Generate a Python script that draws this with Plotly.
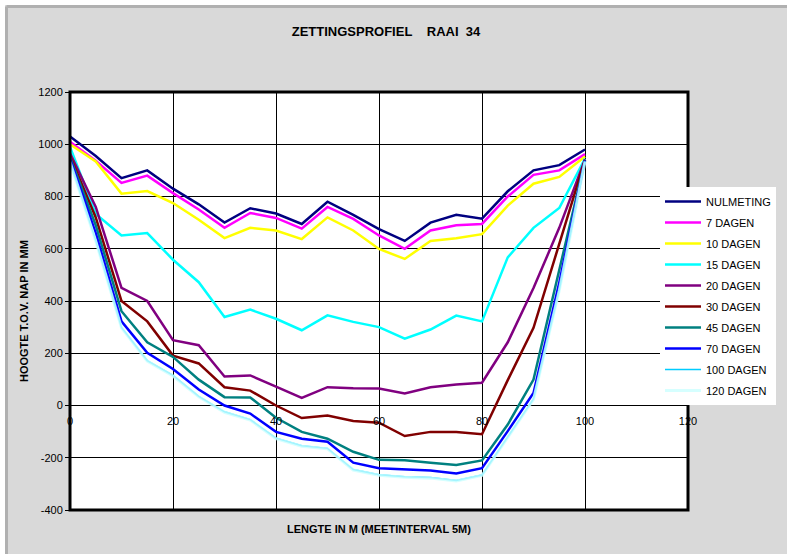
import plotly.graph_objects as go

# Meetpunten langs de raai (interval 5 m)
afstand = [0, 5, 10, 15, 20, 25, 30, 35, 40, 45, 50, 55, 60, 65, 70, 75, 80, 85, 90, 95, 100]

# Hoogte t.o.v. NAP in mm per meetmoment
nulmeting = [1030, 955, 870, 900, 830, 770, 700, 755, 735, 695, 780, 730, 675, 630, 700, 730, 715, 820, 900, 920, 980]
dagen_7 = [1010, 937, 852, 880, 813, 750, 680, 737, 718, 677, 760, 714, 651, 600, 670, 690, 695, 800, 883, 900, 962]
dagen_10 = [1000, 934, 811, 821, 775, 711, 641, 680, 670, 637, 720, 670, 599, 561, 630, 640, 656, 765, 849, 875, 953]
dagen_15 = [990, 733, 651, 660, 558, 472, 339, 367, 332, 288, 345, 320, 300, 256, 291, 344, 322, 567, 680, 756, 945]
dagen_20 = [965, 760, 450, 400, 250, 231, 111, 115, 72, 29, 70, 66, 65, 46, 70, 80, 87, 242, 450, 680, 942]
dagen_30 = [955, 720, 400, 322, 191, 161, 70, 57, 0, -48, -38, -59, -66, -117, -101, -101, -110, 97, 297, 620, 940]
dagen_45 = [950, 690, 361, 242, 186, 99, 32, 31, -47, -101, -127, -177, -208, -210, -219, -228, -210, -73, 99, 520, 938]
dagen_70 = [945, 660, 322, 202, 140, 61, 0, -31, -101, -127, -139, -219, -240, -245, -249, -260, -240, -98, 48, 470, 938]
dagen_100 = [934, 632, 299, 172, 115, 35, -24, -54, -125, -154, -164, -245, -265, -273, -276, -287, -266, -122, 25, 442, 935]
dagen_120 = [932, 630, 297, 170, 113, 33, -26, -56, -127, -156, -166, -247, -267, -275, -278, -289, -268, -124, 23, 440, 934]

reeksen = [
    ("NULMETING", nulmeting, "#000080", 2.5, 1.0),
    ("7 DAGEN", dagen_7, "#ff00ff", 2.5, 1.0),
    ("10 DAGEN", dagen_10, "#ffff00", 2.5, 1.0),
    ("15 DAGEN", dagen_15, "#00ffff", 2.5, 1.0),
    ("20 DAGEN", dagen_20, "#800080", 2.5, 1.0),
    ("30 DAGEN", dagen_30, "#800000", 2.5, 1.0),
    ("45 DAGEN", dagen_45, "#008080", 2.5, 1.0),
    ("70 DAGEN", dagen_70, "#0000ff", 2.5, 1.0),
    ("100 DAGEN", dagen_100, "#00ccff", 1.5, 1.0),
    ("120 DAGEN", dagen_120, "#ccffff", 3.0, 0.8),
]

x_ticks = [0, 20, 40, 60, 80, 100, 120]
y_ticks = [-400, -200, 0, 200, 400, 600, 800, 1000, 1200]

FONT = "Liberation Sans, Arial, sans-serif"

fig = go.Figure()
for naam, waarden, kleur, dikte, dekking in reeksen:
    fig.add_trace(go.Scatter(
        x=afstand, y=waarden, name=naam, mode="lines",
        line=dict(color=kleur, width=dikte), opacity=dekking,
        legendgroup=naam,
    ))

W, H = 787, 554
L, R, T, B = 70, 99, 92, 44
pw, ph = W - L - R, H - T - B


def px_x(px):
    return (px - L) / pw


def px_y(py):
    return (H - B - py) / ph


fig.update_layout(
    width=W, height=H,
    margin=dict(l=L, r=R, t=T, b=B, autoexpand=False),
    paper_bgcolor="#d9d9d9",
    plot_bgcolor="#ffffff",
    font=dict(family=FONT, size=11, color="#000000"),
    title=dict(
        text="ZETTINGSPROFIEL\u00a0\u00a0\u00a0\u00a0RAAI\u00a0\u00a034",
        x=386 / W, xanchor="center", xref="container",
        y=1 - 31 / H, yanchor="middle", yref="container",
        font=dict(family=FONT, size=13, weight="bold"),
    ),
    showlegend=True,
    legend=dict(
        x=px_x(660), y=px_y(187), xanchor="left", yanchor="top",
        bgcolor="#ffffff", borderwidth=0,
        font=dict(family=FONT, size=11),
        traceorder="grouped", tracegroupgap=2,
        itemwidth=36,
    ),
    xaxis=dict(
        range=[0, 120], tickvals=x_ticks, ticktext=[str(v) for v in x_ticks],
        anchor="free", position=0.25,
        showgrid=True, gridcolor="#000000", gridwidth=1,
        zeroline=False, showline=False, ticks="",
        ticklabelstandoff=7,
        tickfont=dict(family=FONT, size=11),
    ),
    yaxis=dict(
        range=[-400, 1200], tickvals=y_ticks, ticktext=[str(v) for v in y_ticks],
        showgrid=True, gridcolor="#000000", gridwidth=1,
        zeroline=False, showline=False,
        ticks="outside", ticklen=4, tickcolor="#000000",
        tickfont=dict(family=FONT, size=11),
    ),
    shapes=[
        # kader rond het grafiekvlak
        dict(type="rect", xref="paper", yref="paper", x0=0, x1=1, y0=0, y1=1,
             line=dict(color="#000000", width=3), layer="above"),
        # lichte rand linksboven
        dict(type="rect", xref="paper", yref="paper",
             x0=px_x(0), x1=px_x(W), y0=px_y(5), y1=px_y(0),
             fillcolor="#ffffff", line=dict(width=0), layer="below"),
        dict(type="rect", xref="paper", yref="paper",
             x0=px_x(0), x1=px_x(5), y0=px_y(H), y1=px_y(0),
             fillcolor="#ffffff", line=dict(width=0), layer="below"),
        dict(type="line", xref="paper", yref="paper",
             x0=px_x(6.5), x1=px_x(W), y0=px_y(6.5), y1=px_y(6.5),
             line=dict(color="#b0b0b0", width=3), layer="below"),
        dict(type="line", xref="paper", yref="paper",
             x0=px_x(6.5), x1=px_x(6.5), y0=px_y(H), y1=px_y(6.5),
             line=dict(color="#b0b0b0", width=3), layer="below"),
    ],
    annotations=[
        dict(text="HOOGTE T.O.V. NAP IN MM", xref="paper", yref="paper",
             x=px_x(24), y=px_y(311), textangle=-90, showarrow=False,
             xanchor="center", yanchor="middle",
             font=dict(family=FONT, size=11, weight="bold")),
        dict(text="LENGTE IN M (MEETINTERVAL 5M)", xref="paper", yref="paper",
             x=px_x(379), y=px_y(529), showarrow=False,
             xanchor="center", yanchor="middle",
             font=dict(family=FONT, size=11, weight="bold")),
    ],
)

fig.write_html("out.html")
